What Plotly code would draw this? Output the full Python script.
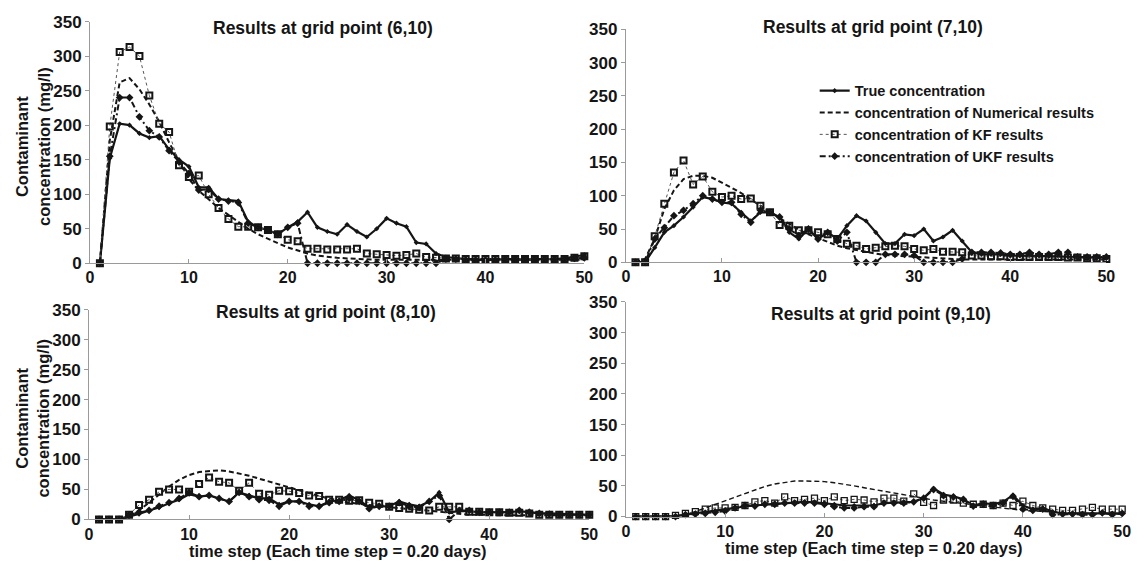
import plotly.graph_objects as go

W, H = 1146, 571
t = list(range(1, 51))

series_names = ["True concentration", "concentration of Numerical results",
                "concentration of KF results", "concentration of UKF results"]
panel_titles = ["Results at grid point (6,10)", "Results at grid point (7,10)",
                "Results at grid point (8,10)", "Results at grid point (9,10)"]
x_ticks = [0, 10, 20, 30, 40, 50]
y_ticks = [0, 50, 100, 150, 200, 250, 300, 350]

# (6,10)
p1_true = [0,152,202,200,188,182,184,165,150,140, 110,110,93,91,90,60,52,48,42,52,
           60,74,52,46,42,56,46,38,50,65, 58,53,30,28,14,9,7,6,5,5, 5,6,6,6,6,6,6,7,10,12]
p1_num = [0,178,262,268,252,230,205,175,148,122, 105,92,80,70,60,50,42,35,29,23,
          18,14,11,9,8,7,6,6,5,5, 5,5,5,5,5,5,5,5,5,5, 5,5,5,5,5,5,5,5,5,5]
p1_kf = [0,198,306,313,300,243,202,190,142,125, 127,100,80,64,53,53,52,48,42,34,
         32,21,21,20,20,20,21,14,13,12, 11,12,14,9,8,7,7,6,6,6, 6,6,6,6,6,6,6,6,8,10]
p1_ukf = [0,155,240,240,212,192,183,163,147,130, 106,107,93,90,88,58,52,48,42,52,
          58,0,0,0,0,0,0,0,0,0, 0,0,0,0,0,6,6,5,5,5, 5,6,6,6,6,6,6,6,7,8]

# (7,10)
p2_true = [0,0,22,45,55,68,83,98,95,90, 88,75,62,75,75,68,45,35,50,35,
           45,35,55,70,62,45,28,28,42,40, 50,32,38,48,32,15,12,12,12,10, 10,10,10,9,9,8,8,7,7,6]
p2_num = [0,5,35,80,108,125,130,130,127,120, 112,104,95,85,75,66,57,49,42,36,
          30,25,21,18,15,13,11,10,9,8, 7,6,5,5,4,4,4,4,4,4, 4,4,4,4,4,4,4,4,4,4]
p2_kf = [0,0,39,88,135,153,117,129,106,98, 100,95,96,85,75,56,55,48,48,45,
         42,35,28,25,20,22,24,25,24,20, 18,20,16,16,15,10,10,9,9,8, 8,8,8,8,8,7,7,6,6,5]
p2_ukf = [0,0,35,52,70,78,88,100,95,90, 90,72,60,78,75,68,50,40,50,35,
          45,32,45,0,0,0,12,12,12,10, 0,0,0,0,5,15,15,15,14,12, 12,15,12,12,15,15,8,8,8,8]

# (8,10)
p3_true = [0,0,0,5,9,15,20,27,33,42, 38,40,35,30,45,40,35,35,25,30,
           30,25,22,30,32,40,32,20,22,22, 30,25,22,30,45,12,14,14,12,12, 12,12,14,12,10,10,9,8,8,8]
p3_num = [0,0,0,5,15,28,42,55,66,74, 79,81,82,80,77,73,68,63,58,53,
          48,43,39,35,31,28,26,24,22,20, 19,17,16,15,13,11,9,8,8,7, 7,7,7,7,7,7,7,7,7,7]
p3_kf = [0,0,0,8,24,33,46,50,50,46, 59,70,63,61,48,61,43,41,48,47,
         44,40,39,33,33,31,32,28,26,21, 19,18,16,15,21,21,21,13,13,12, 12,11,11,10,8,8,8,8,8,8]
p3_ukf = [0,0,0,8,12,15,22,28,35,45, 38,40,35,30,45,38,33,32,22,30,
          30,22,22,28,30,35,30,18,22,22, 28,22,20,30,40,0,15,15,12,12, 12,12,15,12,10,9,8,8,8,8]

# (9,10)
p4_true = [0,0,0,0,0,3,5,7,9,11, 14,17,18,20,21,22,23,24,23,22,
           20,18,18,18,18,22,23,24,24,30, 46,36,33,28,18,22,20,24,35,18, 12,14,8,5,5,5,5,5,5,5]
p4_num = [0,0,0,0,1,4,8,14,20,26, 32,38,44,49,53,56,58,58,58,57,
          55,53,50,47,44,41,38,35,32,29, 27,25,23,21,19,17,15,13,12,10, 9,8,7,6,6,5,5,4,4,4]
p4_kf = [0,0,0,0,2,5,8,12,14,14, 15,18,24,26,22,32,26,28,30,26,
         32,26,28,27,24,30,30,25,37,23, 18,27,27,22,20,20,18,22,18,25, 18,14,12,10,10,12,15,12,12,12]
p4_ukf = [0,0,0,0,0,3,4,5,7,9, 14,18,17,20,20,22,22,22,22,20,
          16,14,14,16,16,22,22,22,24,30, 44,34,32,28,17,20,18,22,33,12, 10,12,3,4,4,3,3,6,3,5]

panels = [
    (p1_true, p1_num, p1_kf, p1_ukf),
    (p2_true, p2_num, p2_kf, p2_ukf),
    (p3_true, p3_num, p3_kf, p3_ukf),
    (p4_true, p4_num, p4_kf, p4_ukf),
]

# pixel boxes of plot areas: (left, right, top, bottom)
boxes = [(87, 587, 13, 263), (629, 1115, 21, 262), (86, 592, 311, 528), (629, 1131, 303, 525)]
title_pos = [(323, 20), (879, 19), (326, 313), (887, 316)]

INK = "#151515"
AXC = "#9a9a9a"
FONT = "Liberation Sans, Arial, sans-serif"

fig = go.Figure()
for i, (tr, nu, kf, uk) in enumerate(panels):
    ax = "" if i == 0 else str(i + 1)
    xa, ya = "x" + ax, "y" + ax
    show = (i == 1)
    fig.add_trace(go.Scatter(x=t, y=tr, xaxis=xa, yaxis=ya, name=series_names[0], mode="lines+markers",
                             line=dict(color=INK, width=2.2), marker=dict(symbol="diamond", size=4, color=INK),
                             showlegend=show, cliponaxis=False))
    fig.add_trace(go.Scatter(x=t, y=nu, xaxis=xa, yaxis=ya, name=series_names[1], mode="lines",
                             line=dict(color=INK, width=2 if i < 3 else 1.4, dash="5px,3px"),
                             showlegend=show, cliponaxis=False))
    fig.add_trace(go.Scatter(x=t, y=kf, xaxis=xa, yaxis=ya, name=series_names[2], mode="lines+markers",
                             line=dict(color="#555555", width=1, dash="dot"),
                             marker=dict(symbol="square-open", size=6,
                                         color=INK, line=dict(width=2 if i < 3 else 1.3, color=INK)),
                             showlegend=show, cliponaxis=False))
    fig.add_trace(go.Scatter(x=t, y=uk, xaxis=xa, yaxis=ya, name=series_names[3], mode="lines+markers",
                             line=dict(color=INK, width=2, dash="6px,3px,2px,3px"),
                             marker=dict(symbol="diamond", size=6, color=INK),
                             showlegend=show, cliponaxis=False))

layout = dict(
    width=W, height=H, margin=dict(l=0, r=0, t=0, b=0),
    paper_bgcolor="white", plot_bgcolor="white",
    font=dict(family=FONT, color=INK),
    legend=dict(x=820 / W, y=1 - 68 / H, xanchor="left", yanchor="top",
                bgcolor="rgba(0,0,0,0)", font=dict(size=14.5, weight="bold", family=FONT),
                tracegroupgap=0, itemwidth=30),
)
for i, (l, r, tp, bt) in enumerate(boxes):
    ax = "" if i == 0 else str(i + 1)
    layout["xaxis" + ax] = dict(domain=[l / W, r / W], anchor="y" + ax, range=[0, 50],
                                tickvals=x_ticks, ticks="inside", ticklen=4, tickcolor=AXC,
                                showline=True, linecolor=AXC, linewidth=1, showgrid=False,
                                zeroline=False,
                                tickfont=dict(size=16, weight="bold", family=FONT))
    layout["yaxis" + ax] = dict(domain=[1 - bt / H, 1 - tp / H], anchor="x" + ax, range=[0, 350],
                                tickvals=y_ticks, ticks="outside", ticklen=4, tickcolor=AXC,
                                showline=True, linecolor=AXC, linewidth=1, showgrid=False,
                                zeroline=False, tickfont=dict(size=17, weight="bold", family=FONT))
fig.update_layout(**layout)

ann = []
for (cx, cy), txt in zip(title_pos, panel_titles):
    ann.append(dict(x=cx / W, y=1 - cy / H, xref="paper", yref="paper", text=txt, showarrow=False,
                    xanchor="center", yanchor="middle", font=dict(size=17.5, weight="bold", family=FONT)))
for cy in (142, 423):
    ann.append(dict(x=29 / W, y=1 - cy / H, xref="paper", yref="paper",
                    text="Contaminant<br>concentration (mg/l)", showarrow=False, textangle=-90,
                    xanchor="center", yanchor="middle", font=dict(size=16.5, weight="bold", family=FONT)))
for cx, cy in ((338, 561), (880, 558)):
    ann.append(dict(x=cx / W, y=1 - cy / H, xref="paper", yref="paper",
                    text="time step (Each time step = 0.20 days)", showarrow=False,
                    xanchor="center", yanchor="middle", font=dict(size=16.5, weight="bold", family=FONT)))
fig.update_layout(annotations=ann)

fig.write_html("out.html", config={"displayModeBar": False},
               post_script="document.body.style.margin='0px';")
